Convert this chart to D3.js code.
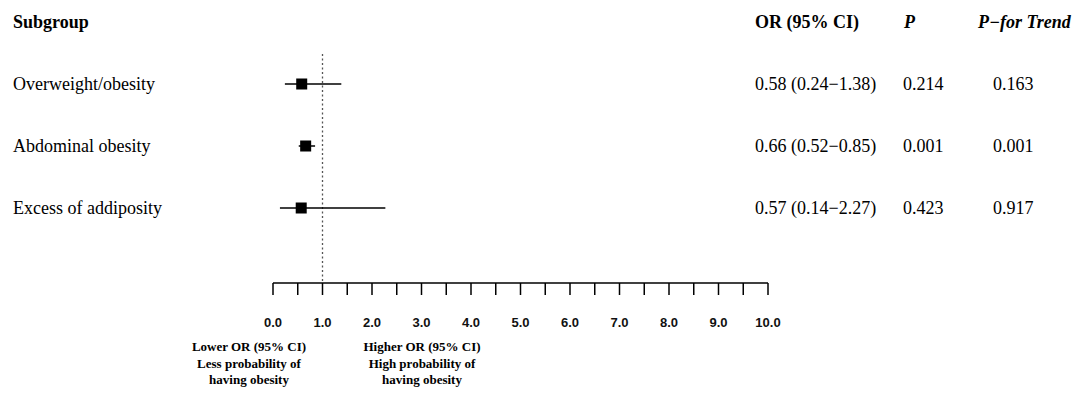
<!DOCTYPE html>
<html>
<head>
<meta charset="utf-8">
<script src="https://cdnjs.cloudflare.com/ajax/libs/d3/7.8.5/d3.min.js"></script>
<style>
    body { margin: 0; background: #fff; }
    svg { display: block; }
    .serif { font-family: "Liberation Serif", "Times New Roman", serif; fill: #000; }
    .tick-label { font-family: "Liberation Sans", Arial, sans-serif; font-size: 13px; font-weight: bold; fill: #111; }
</style>
</head>
<body>
<div id="chart"></div>
<script>
// Данные
const subgroups = ['Overweight/obesity', 'Abdominal obesity', 'Excess of addiposity'];
const orValues = [0.58, 0.66, 0.57];
const ciLower = [0.24, 0.52, 0.14];
const ciUpper = [1.38, 0.85, 2.27];
const pValues = ['0.214', '0.001', '0.423'];
const pTrend = ['0.163', '0.001', '0.917'];
const xTicks = d3.range(0, 10.01, 0.5);
const xTickLabels = d3.range(0, 11, 1);

const width = 1084, height = 397;
const fs = 18;

const svg = d3.select('#chart').append('svg')
    .attr('width', width)
    .attr('height', height);

// Шкалы
const x = d3.scaleLinear().domain([0, 10]).range([273, 768]);
const y = d3.scalePoint().domain(subgroups).range([84, 208]);
const axisY = 283;

// Заголовки
const headerY = 28;
svg.append('text').attr('class', 'serif').attr('x', 13).attr('y', headerY)
    .attr('font-size', fs).attr('font-weight', 'bold').text('Subgroup');
svg.append('text').attr('class', 'serif').attr('x', 755).attr('y', headerY)
    .attr('font-size', fs).attr('font-weight', 'bold').text('OR (95% CI)');
svg.append('text').attr('class', 'serif').attr('x', 904).attr('y', headerY)
    .attr('font-size', fs).attr('font-weight', 'bold').attr('font-style', 'italic').text('P');
svg.append('text').attr('class', 'serif').attr('x', 978).attr('y', headerY)
    .attr('font-size', fs).attr('font-weight', 'bold').attr('font-style', 'italic').text('P\u2212for Trend');

// Линия OR = 1
svg.append('line')
    .attr('x1', x(1)).attr('x2', x(1))
    .attr('y1', 54).attr('y2', axisY)
    .attr('stroke', '#555')
    .attr('stroke-width', 1.3)
    .attr('stroke-dasharray', '2,2.5');

// Строки
const rows = svg.selectAll('.row')
    .data(subgroups.map((s, i) => ({
        name: s, or: orValues[i], lo: ciLower[i], hi: ciUpper[i], p: pValues[i], pt: pTrend[i]
    })))
    .enter().append('g')
    .attr('class', 'row');

rows.append('text').attr('class', 'serif')
    .attr('x', 13).attr('y', d => y(d.name) + 6)
    .attr('font-size', fs).text(d => d.name);

rows.append('line')
    .attr('x1', d => x(d.lo)).attr('x2', d => x(d.hi))
    .attr('y1', d => y(d.name)).attr('y2', d => y(d.name))
    .attr('stroke', '#000').attr('stroke-width', 1.5);

const sq = 11;
rows.append('rect')
    .attr('x', d => x(d.or) - sq / 2).attr('y', d => y(d.name) - sq / 2)
    .attr('width', sq).attr('height', sq)
    .attr('fill', '#000');

rows.append('text').attr('class', 'serif')
    .attr('x', 755).attr('y', d => y(d.name) + 6)
    .attr('font-size', fs)
    .text(d => `${d.or.toFixed(2)} (${d.lo.toFixed(2)}\u2212${d.hi.toFixed(2)})`);

rows.append('text').attr('class', 'serif')
    .attr('x', 903).attr('y', d => y(d.name) + 6)
    .attr('font-size', fs).text(d => d.p);

rows.append('text').attr('class', 'serif')
    .attr('x', 993).attr('y', d => y(d.name) + 6)
    .attr('font-size', fs).text(d => d.pt);

// Ось
const axisG = svg.append('g');
axisG.append('line')
    .attr('x1', x(0)).attr('x2', x(10))
    .attr('y1', axisY).attr('y2', axisY)
    .attr('stroke', '#000').attr('stroke-width', 1.5);

axisG.selectAll('.tick')
    .data(xTicks)
    .enter().append('line')
    .attr('x1', d => x(d)).attr('x2', d => x(d))
    .attr('y1', axisY).attr('y2', axisY + 12)
    .attr('stroke', '#000').attr('stroke-width', 1.5);

axisG.selectAll('.tick-label')
    .data(xTickLabels)
    .enter().append('text')
    .attr('class', 'tick-label')
    .attr('x', d => x(d)).attr('y', 327)
    .attr('text-anchor', 'middle')
    .text(d => d.toFixed(1));

// Пояснения
const notes = [
    { cx: 249, lines: ['Lower OR (95% CI)', 'Less probability of', 'having obesity'] },
    { cx: 422, lines: ['Higher OR (95% CI)', 'High probability of', 'having obesity'] }
];
notes.forEach(n => {
    n.lines.forEach((t, i) => {
        svg.append('text').attr('class', 'serif')
            .attr('x', n.cx).attr('y', 351 + i * 16.5)
            .attr('text-anchor', 'middle')
            .attr('font-size', 13).attr('font-weight', 'bold')
            .text(t);
    });
});
</script>
</body>
</html>
